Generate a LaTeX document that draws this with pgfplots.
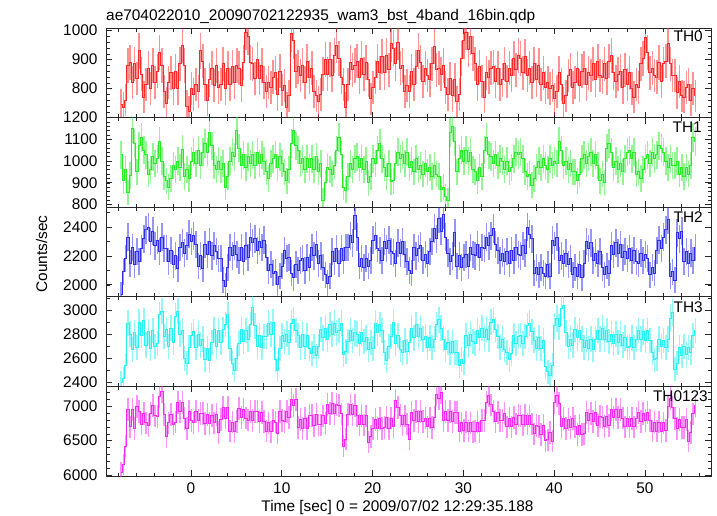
\documentclass[border=0pt]{standalone}
\usepackage{fontspec}
\setmainfont{Liberation Sans}
\usepackage{pgfplots}
\usepackage{pgfplotstable}
\pgfplotsset{compat=1.18}
\definecolor{cR}{RGB}{255,40,40}
\definecolor{cG}{RGB}{40,235,40}
\definecolor{cB}{RGB}{45,45,240}
\definecolor{cC}{RGB}{40,240,240}
\definecolor{cM}{RGB}{245,40,245}
\newcommand{\fs}{\fontsize{15.4bp}{18bp}\selectfont}

\pgfplotstableread[row sep=\\]{y\\
745\\735\\760\\880\\ 890\\820\\885\\835\\ 930\\850\\770\\815\\ 870\\800\\880\\820\\ 860\\925\\880\\790\\
750\\820\\855\\800\\ 860\\800\\885\\950\\ 880\\740\\720\\800\\ 780\\815\\790\\930\\ 895\\815\\760\\830\\
870\\810\\880\\805\\ 815\\885\\800\\870\\ 815\\875\\820\\880\\ 870\\810\\890\\995\\ 980\\890\\885\\835\\
900\\835\\880\\820\\ 790\\820\\805\\840\\ 855\\780\\860\\795\\ 810\\735\\775\\990\\ 965\\860\\875\\845\\
880\\820\\895\\840\\ 870\\790\\775\\755\\ 780\\850\\900\\850\\ 900\\845\\915\\950\\ 905\\840\\815\\735\\
815\\890\\865\\880\\ 895\\840\\905\\850\\ 890\\830\\765\\805\\ 840\\895\\855\\910\\ 855\\915\\865\\955\\
940\\885\\960\\870\\ 880\\790\\810\\790\\ 860\\815\\875\\930\\ 890\\825\\870\\845\\ 830\\885\\945\\865\\
870\\850\\880\\805\\ 780\\835\\775\\830\\ 755\\780\\905\\965\\ 995\\935\\980\\920\\ 885\\815\\875\\825\\
770\\855\\840\\870\\ 875\\825\\870\\815\\ 830\\885\\825\\870\\ 845\\905\\865\\915\\ 905\\855\\910\\845\\
870\\820\\885\\830\\ 880\\815\\855\\805\\ 820\\800\\810\\765\\ 790\\855\\815\\750\\ 775\\845\\865\\805\\
820\\870\\810\\860\\ 870\\815\\855\\845\\ 885\\830\\895\\845\\ 840\\885\\835\\895\\ 915\\855\\825\\850\\
860\\805\\865\\815\\ 855\\800\\770\\815\\ 805\\885\\905\\975\\ 925\\855\\870\\845\\ 840\\890\\825\\885\\
895\\955\\885\\845\\ 845\\785\\825\\775\\ 770\\805\\815\\760\\ 800\\775\\
}\THzero

\pgfplotstableread[row sep=\\]{y\\
1030\\910\\960\\855\\ 935\\1150\\1080\\950\\ 1070\\1110\\1050\\1030\\ 940\\960\\1020\\990\\ 1010\\1090\\1000\\930\\
910\\880\\920\\980\\ 960\\1000\\970\\1055\\ 930\\960\\920\\1000\\ 1040\\990\\1050\\980\\ 1040\\1080\\1040\\1130\\
1070\\980\\960\\1000\\ 960\\990\\880\\930\\ 1000\\1040\\1020\\1140\\ 1060\\980\\1030\\970\\ 1020\\990\\1030\\980\\
1040\\990\\1030\\1000\\ 950\\920\\990\\1010\\ 1030\\970\\1020\\990\\ 950\\910\\960\\1080\\ 1140\\1070\\1050\\990\\
1010\\960\\1010\\970\\ 1010\\960\\1020\\950\\ 990\\820\\900\\970\\ 960\\940\\980\\1050\\ 1110\\1030\\880\\865\\
930\\990\\960\\1010\\ 1020\\970\\1010\\960\\ 1000\\900\\930\\1010\\ 990\\1050\\1080\\1010\\ 970\\930\\990\\905\\
910\\990\\1040\\1010\\ 1030\\990\\1040\\970\\ 1000\\950\\1010\\960\\ 980\\940\\990\\950\\ 970\\930\\980\\940\\
930\\870\\880\\835\\ 820\\1130\\1160\\1090\\ 950\\1010\\1050\\1000\\ 1050\\1000\\1040\\960\\ 950\\910\\970\\930\\
1050\\1110\\1030\\1020\\ 990\\1030\\980\\1010\\ 1000\\960\\1000\\950\\ 970\\1010\\1040\\1030\\ 1040\\1010\\950\\930\\
940\\890\\920\\970\\ 1000\\970\\1010\\980\\ 960\\1010\\980\\1000\\ 990\\1090\\1050\\980\\ 1000\\960\\990\\950\\
950\\910\\940\\1010\\ 1030\\990\\1020\\1040\\ 990\\1030\\980\\910\\ 940\\900\\1060\\1080\\ 1040\\970\\1000\\960\\
990\\950\\1010\\1040\\ 1050\\1010\\1040\\940\\ 950\\920\\960\\1010\\ 1030\\990\\1040\\1010\\ 1030\\1070\\1060\\1040\\
1000\\970\\1010\\980\\ 980\\1000\\940\\970\\ 930\\970\\940\\980\\ 1110\\1090\\
}\THone

\pgfplotstableread[row sep=\\]{y\\
1930\\2090\\2180\\2330\\ 2150\\2260\\2140\\2230\\ 2160\\2250\\2320\\2380\\ 2400\\2300\\2370\\2270\\ 2310\\2230\\2330\\2250\\
2250\\2160\\2240\\2140\\ 2200\\2110\\2260\\2290\\ 2220\\2270\\2350\\2300\\ 2340\\2280\\2130\\2200\\ 2110\\2280\\2210\\2300\\
2200\\2270\\2230\\2180\\ 2180\\2030\\1990\\2120\\ 2260\\2200\\2270\\2210\\ 2170\\2260\\2160\\2270\\ 2190\\2330\\2290\\2320\\
2240\\2300\\2260\\2310\\ 2190\\2100\\2140\\2080\\ 2090\\2000\\2060\\2130\\ 2240\\2180\\2190\\2080\\ 2050\\2140\\2100\\2170\\
2180\\2100\\2190\\2120\\ 2260\\2200\\2280\\2150\\ 2200\\2120\\2070\\2010\\ 2060\\2230\\2160\\2250\\ 2150\\2250\\2170\\2260\\
2260\\2340\\2290\\2480\\ 2330\\2130\\2180\\2120\\ 2180\\2130\\2170\\2310\\ 2340\\2250\\2240\\2170\\ 2300\\2250\\2310\\2230\\
2220\\2150\\2290\\2220\\ 2300\\2210\\2160\\2100\\ 2080\\2260\\2200\\2250\\ 2270\\2170\\2210\\2150\\ 2230\\2300\\2390\\2320\\
2460\\2370\\2490\\2330\\ 2220\\2160\\2200\\2360\\ 2130\\2200\\2120\\2190\\ 2210\\2130\\2260\\2210\\ 2200\\2280\\2190\\2260\\
2250\\2330\\2270\\2340\\ 2390\\2280\\2240\\2170\\ 2220\\2160\\2230\\2150\\ 2240\\2170\\2260\\2210\\ 2200\\2270\\2220\\2400\\
2350\\2320\\2080\\2120\\ 2070\\2120\\2080\\2060\\ 2140\\2060\\2310\\2270\\ 2330\\2170\\2200\\2150\\ 2220\\2140\\2180\\2070\\
2120\\2060\\2140\\2050\\ 2150\\2300\\2250\\2290\\ 2170\\2220\\2150\\2230\\ 2120\\2070\\2130\\2080\\ 2270\\2210\\2290\\2220\\
2280\\2190\\2230\\2180\\ 2250\\2170\\2240\\2160\\ 2150\\2220\\2170\\2210\\ 2180\\2070\\2120\\2080\\ 2240\\2310\\2250\\2330\\
2380\\2450\\2060\\2090\\ 2030\\2360\\2320\\2370\\ 2160\\2230\\2150\\2220\\ 2170\\2260\\
}\THtwo

\pgfplotstableread[row sep=\\]{y\\
2400\\2430\\2540\\2890\\ 2800\\2670\\2810\\2690\\ 2900\\2790\\2910\\2710\\ 2820\\2680\\2830\\2700\\ 2720\\2960\\2990\\2780\\
2840\\2700\\2850\\2730\\ 2950\\2990\\2800\\2830\\ 2600\\2560\\2690\\2790\\ 2820\\2690\\2800\\2710\\ 2760\\2590\\2680\\2580\\
2730\\2840\\2700\\2830\\ 2730\\2840\\2880\\2960\\ 2680\\2560\\2500\\2600\\ 2720\\2840\\2740\\2830\\ 2760\\2880\\3020\\2870\\
2700\\2790\\2690\\2780\\ 2780\\2890\\2800\\2900\\ 2590\\2500\\2680\\2790\\ 2740\\2800\\2730\\2890\\ 2920\\2830\\2790\\2690\\
2800\\2700\\2790\\2680\\ 2640\\2700\\2620\\2700\\ 2840\\2770\\2850\\2760\\ 2880\\2800\\2890\\2810\\ 2830\\2890\\2630\\2660\\
2740\\2830\\2750\\2810\\ 2800\\2720\\2810\\2740\\ 2770\\2670\\2730\\2680\\ 2890\\2810\\2880\\2830\\ 2650\\2580\\2700\\2780\\
2900\\2720\\2790\\2670\\ 2650\\2750\\2660\\2730\\ 2850\\2770\\2880\\2780\\ 2850\\2760\\2780\\2690\\ 2770\\2690\\2760\\2880\\
2920\\2850\\2760\\2670\\ 2730\\2650\\2740\\2650\\ 2650\\2540\\2590\\2560\\ 2790\\2710\\2800\\2740\\ 2720\\2830\\2770\\2850\\
2770\\2840\\2760\\2900\\ 2920\\2840\\2780\\2690\\ 2760\\2670\\2650\\2590\\ 2640\\2790\\2720\\2780\\ 2790\\2720\\2780\\2870\\
2890\\2820\\2750\\2680\\ 2770\\2680\\2750\\2530\\ 2490\\2460\\2540\\2870\\ 2930\\2860\\3010\\3040\\ 2810\\2700\\2760\\2710\\
2840\\2770\\2830\\2760\\ 2690\\2750\\2680\\2760\\ 2670\\2760\\2830\\2760\\ 2850\\2760\\2830\\2740\\ 2800\\2720\\2800\\2730\\
2800\\2710\\2770\\2690\\ 2700\\2770\\2690\\2760\\ 2830\\2760\\2820\\2750\\ 2830\\2750\\2650\\2590\\ 2600\\2760\\2700\\2750\\
2690\\2760\\2930\\2980\\ 2510\\2560\\2690\\2620\\ 2700\\2630\\2690\\2650\\ 2790\\2830\\
}\THthree

\pgfplotstableread[row sep=\\]{y\\
6030\\6150\\6420\\6950\\ 6700\\6950\\6680\\7000\\ 6920\\6740\\6900\\6760\\ 6720\\6900\\7010\\6860\\ 6850\\7140\\7220\\6880\\
6560\\6760\\6880\\6740\\ 6770\\7050\\6920\\7060\\ 6820\\6680\\6920\\6790\\ 6760\\6920\\6790\\6900\\ 6900\\6750\\6880\\6750\\
6870\\6760\\6880\\6620\\ 6810\\6980\\6830\\6990\\ 6640\\6770\\6630\\6780\\ 6970\\6840\\6960\\6830\\ 6800\\6930\\6790\\6920\\
6920\\6780\\6910\\6780\\ 6640\\6760\\6630\\6790\\ 6770\\6610\\6920\\6790\\ 6780\\6920\\6840\\7100\\ 7010\\7100\\6690\\6810\\
6680\\6830\\6680\\6870\\ 6870\\6720\\6880\\6730\\ 6730\\6860\\6750\\7030\\ 6900\\7040\\6890\\7030\\ 7010\\6890\\6420\\6520\\
6880\\7020\\6880\\7010\\ 6860\\6730\\6870\\6730\\ 6860\\6480\\6560\\6680\\ 6810\\6680\\6820\\6680\\ 6690\\6840\\6680\\6830\\
6700\\7090\\6980\\6870\\ 6730\\6860\\6740\\6520\\ 6910\\6790\\6920\\6780\\ 6920\\6780\\6830\\6700\\ 6830\\6690\\6840\\7180\\
7110\\7200\\6790\\6920\\ 6790\\6920\\6780\\6910\\ 6910\\6640\\6760\\6650\\ 6770\\6640\\6760\\6630\\ 6640\\6770\\6630\\6790\\
6790\\7060\\7160\\7020\\ 6920\\6780\\6910\\6790\\ 6790\\6900\\6700\\6830\\ 6700\\6840\\6740\\6870\\ 6860\\6730\\6870\\6740\\
6860\\6740\\6600\\6720\\ 6710\\6590\\6720\\6500\\ 6510\\6620\\6490\\7060\\ 7160\\7040\\6700\\6820\\ 6680\\6810\\6690\\6820\\
6710\\6590\\6720\\6590\\ 6600\\6910\\6790\\6900\\ 6780\\6910\\6720\\6850\\ 6840\\6710\\6850\\6720\\ 6960\\6840\\6950\\6840\\
6960\\6830\\6700\\6830\\ 6700\\6820\\6700\\6830\\ 6910\\6780\\6900\\6790\\ 6910\\6790\\6640\\6770\\ 6640\\6770\\6630\\6760\\
6650\\7000\\7110\\6980\\ 6820\\6680\\6810\\6690\\ 6690\\6810\\6490\\6620\\ 6890\\7010\\
}\THall

\pgfplotsset{
  lc/.style={
    width=605bp, height=89.6bp, scale only axis, anchor=north west,
    xmin=-9.36, xmax=57.27,
    xtick={0,10,...,50}, minor xtick={-8,-6,...,56},
    tick align=inside, major tick length=6bp, minor tick length=3.5bp,
    axis line style={line width=0.8bp, black!85},
    major tick style={line width=0.7bp, black!85},
    minor tick style={line width=0.6bp, black!85},
    tick label style={font=\fs},
    yticklabel style={xshift=-5bp},
    xticklabel style={yshift=-3bp},
    /pgf/number format/assume math mode=true,
    /pgf/number format/1000 sep={},
    scaled y ticks=false,
  },
  lcplot/.style={
    #1, line width=1.0bp, const plot mark mid, mark=none,
    error bars/.cd, y dir=both, y explicit, error mark=none,
    error bar style={line width=1.5bp, #1, opacity=0.5},
  },
}

\begin{document}
\begin{tikzpicture}
\useasboundingbox (0,0) rectangle (717bp,-516bp);

\begin{axis}[lc, at={(106bp,-28bp)}, xticklabels={},
  ymin=700, ymax=1009, ytick={800,900,1000}, minor ytick={700,720,...,1000}]
\addplot[lcplot=cR] table[x expr={-7.7+0.25*\coordindex}, y=y, y error expr={2*sqrt(\thisrow{y})}] {\THzero};
\node[anchor=north east, inner sep=0pt, font=\fs, xshift=-8bp, yshift=-3bp] at (rel axis cs:1,1) {TH0};
\end{axis}

\begin{axis}[lc, at={(106bp,-117.6bp)}, xticklabels={},
  ymin=788, ymax=1200, ytick={800,900,...,1200}, minor ytick={800,820,...,1200}]
\addplot[lcplot=cG] table[x expr={-7.7+0.25*\coordindex}, y=y, y error expr={2*sqrt(\thisrow{y})}] {\THone};
\node[anchor=north east, inner sep=0pt, font=\fs, xshift=-9bp, yshift=-4.5bp] at (rel axis cs:1,1) {TH1};
\end{axis}

\begin{axis}[lc, at={(106bp,-207.2bp)}, xticklabels={},
  ymin=1917, ymax=2538, ytick={2000,2200,2400}, minor ytick={1900,2000,...,2500}]
\addplot[lcplot=cB] table[x expr={-7.7+0.25*\coordindex}, y=y, y error expr={2*sqrt(\thisrow{y})}] {\THtwo};
\node[anchor=north east, inner sep=0pt, font=\fs, xshift=-8bp, yshift=-4.5bp] at (rel axis cs:1,1) {TH2};
\end{axis}

\begin{axis}[lc, at={(106bp,-296.8bp)}, xticklabels={},
  ymin=2367, ymax=3110, ytick={2400,2600,2800,3000}, minor ytick={2400,2500,...,3100}]
\addplot[lcplot=cC] table[x expr={-7.7+0.25*\coordindex}, y=y, y error expr={2*sqrt(\thisrow{y})}] {\THthree};
\node[anchor=north east, inner sep=0pt, font=\fs, xshift=-8bp, yshift=-4.5bp] at (rel axis cs:1,1) {TH3};
\end{axis}

\begin{axis}[lc, at={(106bp,-386.4bp)},
  ymin=5985, ymax=7291, ytick={6000,6500,7000}, minor ytick={6000,6100,...,7200}]
\addplot[lcplot=cM] table[x expr={-7.7+0.25*\coordindex}, y=y, y error expr={2*sqrt(\thisrow{y})}] {\THall};
\node[anchor=north east, inner sep=0pt, font=\fs, xshift=-3bp, yshift=-4.5bp] at (rel axis cs:1,1) {TH0123};
\end{axis}

\node[anchor=base west, inner sep=0pt, font=\fs] at (106bp,-20bp) {ae704022010\_20090702122935\_wam3\_bst\_4band\_16bin.qdp};
\node[rotate=90, anchor=base, inner sep=0pt, font=\fs] at (47bp,-254bp) {Counts/sec};
\node[anchor=base, inner sep=0pt, font=\fs] at (397.5bp,-511bp) {Time [sec] 0 = 2009/07/02 12:29:35.188};
\end{tikzpicture}
\end{document}
